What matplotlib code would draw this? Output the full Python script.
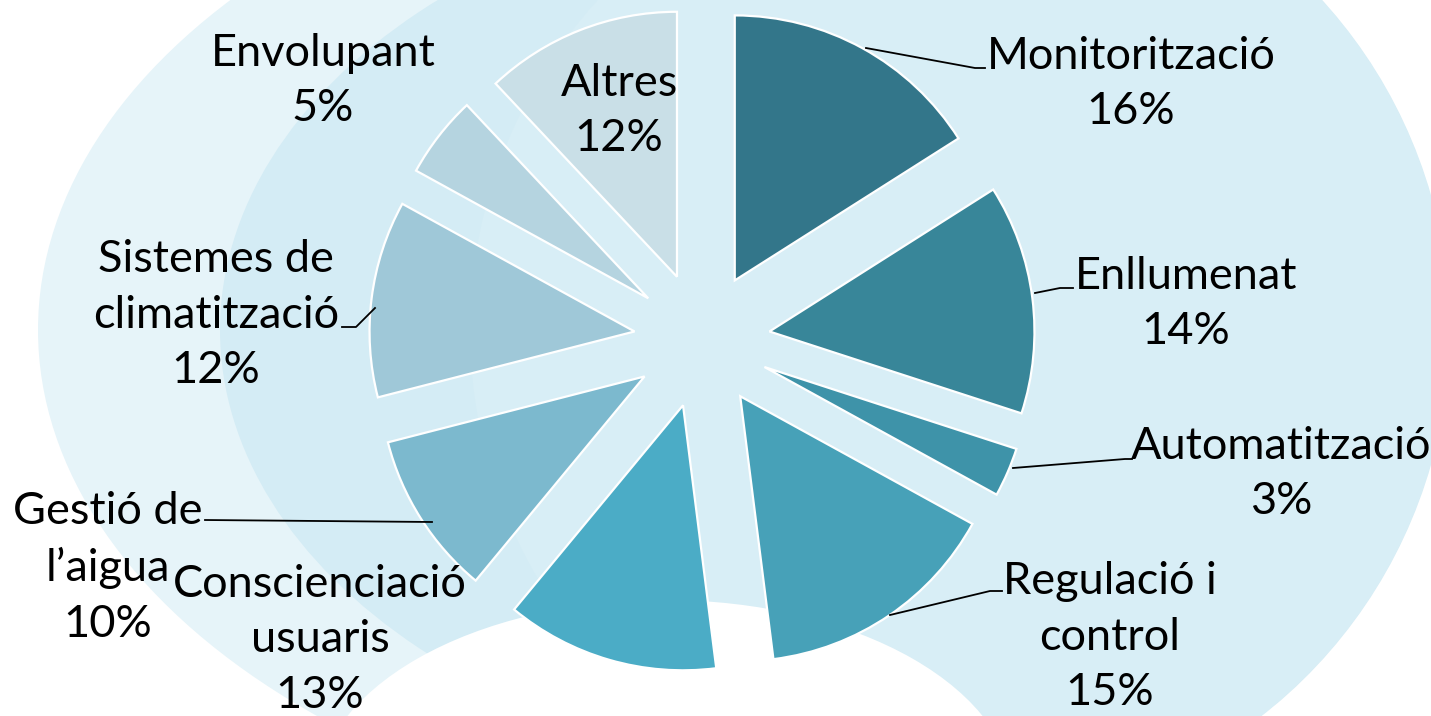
import numpy as np
import matplotlib.pyplot as plt
from matplotlib.patches import Ellipse, Circle, Polygon

categories = ['Monitorització', 'Enllumenat', 'Automatització', 'Regulació i\ncontrol',
              'Conscienciació\nusuaris', 'Gestió de\nl\u2019aigua', 'Sistemes de\nclimatització',
              'Envolupant', 'Altres']
shares = [16, 14, 3, 15, 13, 10, 12, 5, 12]
colors = ['#33768A', '#388699', '#3E93A9', '#47A1B8', '#4BACC6',
          '#7CB9CE', '#9FC8D8', '#B5D4E0', '#C9DFE7']

W, H = 1431, 716


def img(x, y):
    # picture coordinates (y down) -> data coordinates (y up)
    return x, H - y


# label centres and leader lines, in picture pixels
label_pos = [(1131, 84), (1186, 304), (1281, 474), (1110, 637), (320, 640),
             (108, 568), (216, 315), (323, 81), (619, 111)]
leaders = [
    [(866, 48), (975, 68), (985, 68)],
    [(1035, 293), (1060, 288), (1073, 288)],
    [(1013, 468), (1125, 459), (1132, 459)],
    [(890, 615), (990, 591), (1002, 591)],
    None,
    [(432, 522), (205, 520)],
    [(375, 308), (356, 327), (342, 327)],
    None,
    None,
]


def background(ax):
    ax.add_patch(Ellipse(img(900, 330), 1724, 1048, facecolor='#E6F4F9', edgecolor='none', zorder=0.1))
    ax.add_patch(Ellipse(img(900, 330), 1360, 900, facecolor='#D4ECF5', edgecolor='none', zorder=0.2))
    ax.add_patch(Circle(img(960, 330), 490, facecolor='#D8EEF6', edgecolor='none', zorder=0.3))
    # white outside the big circle on the right
    t = np.linspace(np.pi / 2, -np.pi / 2, 80)
    arc = [img(960 + 490 * np.cos(a), 330 + 490 * np.sin(a)) for a in t]
    corner = [img(960, -200), img(1500, -200), img(1500, 900), img(960, 900)] + arc
    ax.add_patch(Polygon(corner, closed=True, facecolor='white', edgecolor='none', zorder=0.4))
    # white bulge under the pie
    ax.add_patch(Ellipse(img(665, 800), 700, 400, facecolor='white', edgecolor='none', zorder=0.5))


def main():
    fig = plt.figure(figsize=(W / 100, H / 100), dpi=100)
    fig.patch.set_facecolor('white')
    ax = fig.add_axes([0, 0, 1, 1])
    background(ax)

    wedges, _ = ax.pie(shares, colors=colors, startangle=90, counterclock=False,
                       center=img(702, 340), radius=265, explode=[68] * len(shares),
                       wedgeprops=dict(edgecolor='white', linewidth=1.6), frame=True)
    for w in wedges:
        w.set_zorder(2)

    for name, val, (x, y) in zip(categories, shares, label_pos):
        ax.text(*img(x, y), f'{name}\n{val}%', ha='center', va='center', multialignment='center',
                fontsize=32.5, family='Lato', color='black', linespacing=1.45, zorder=4)

    for pts in leaders:
        if pts is None:
            continue
        xs = [p[0] for p in pts]
        ys = [H - p[1] for p in pts]
        ax.plot(xs, ys, color='black', lw=1.3, zorder=3)

    ax.set_xlim(0, W)
    ax.set_ylim(0, H)
    ax.set_aspect('auto')
    ax.axis('off')
    fig.savefig('out.png', dpi=100)


if __name__ == '__main__':
    main()
